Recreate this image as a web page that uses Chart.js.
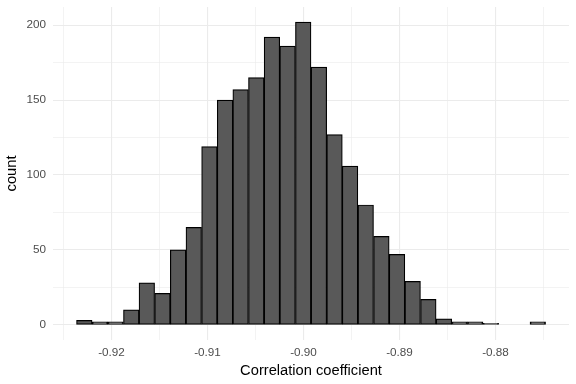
<!DOCTYPE html>
<html>
<head>
<meta charset="utf-8">
<script src="https://cdn.jsdelivr.net/npm/chart.js@4.4.1/dist/chart.umd.min.js"></script>
<style>
  html, body { margin: 0; padding: 0; background: #ffffff; }
  #wrap { width: 576px; height: 384px; }
</style>
</head>
<body>
<div id="wrap"><canvas id="hist"></canvas></div>
<script>
// Центры интервалов гистограммы (30 бинов)
const binCenters = [
  -0.92283, -0.92120, -0.91957, -0.91794, -0.91632, -0.91469,
  -0.91306, -0.91143, -0.90980, -0.90817, -0.90655, -0.90492,
  -0.90329, -0.90166, -0.90003, -0.89840, -0.89677, -0.89515,
  -0.89352, -0.89189, -0.89026, -0.88863, -0.88700, -0.88538,
  -0.88375, -0.88212, -0.88049, -0.87886, -0.87723, -0.87560
];
const counts = [
  3, 2, 2, 10, 28, 21, 50, 65, 119, 150, 157, 165,
  192, 186, 202, 172, 127, 106, 80, 59, 47, 29, 17, 4,
  2, 2, 1, 0, 0, 2
];
const xTickLabels = [-0.92, -0.91, -0.90, -0.89, -0.88];
const yTickLabels = [0, 50, 100, 150, 200];

const FONT = "'Liberation Sans', Arial, sans-serif";
const GRID = '#EBEBEB';

const isMajor = (v, list) => list.some(t => Math.abs(t - v) < 1e-7);
const gridWidth = (list) => (ctx) =>
  (ctx.tick && isMajor(ctx.tick.value, list)) ? 1.1 : 0.6;

const config = {
  type: 'bar',
  data: {
    datasets: [{
      data: binCenters.map((x, i) => ({ x, y: counts[i] })),
      backgroundColor: '#595959',
      borderColor: '#000000',
      borderWidth: 1.2,
      borderSkipped: false,
      barPercentage: 1,
      categoryPercentage: 1
    }]
  },
  options: {
    responsive: true,
    maintainAspectRatio: false,
    animation: false,
    layout: { padding: { left: 0, right: 7, top: 7, bottom: 0 } },
    plugins: {
      legend: { display: false },
      tooltip: { enabled: false }
    },
    scales: {
      x: {
        type: 'linear',
        offset: false,
        min: -0.92609,
        max: -0.87235,
        border: { display: false },
        grid: {
          drawTicks: false,
          offset: false,
          color: GRID,
          lineWidth: gridWidth(xTickLabels)
        },
        ticks: {
          stepSize: 0.005,
          includeBounds: false,
          autoSkip: false,
          maxRotation: 0,
          padding: 6,
          color: '#4D4D4D',
          font: { family: FONT, size: 11.7 },
          callback: (v) => isMajor(v, xTickLabels) ? v.toFixed(2) : ''
        },
        title: {
          display: true,
          text: 'Correlation coefficient',
          color: '#000000',
          font: { family: FONT, size: 14.7 },
          padding: { top: 0, bottom: 4 }
        },
        afterFit: (scale) => {
          scale.height = 44;
          scale.paddingLeft = 0;
          scale.paddingRight = 0;
        }
      },
      y: {
        min: -10.1,
        max: 212.1,
        border: { display: false },
        grid: {
          drawTicks: false,
          color: GRID,
          lineWidth: gridWidth(yTickLabels)
        },
        ticks: {
          stepSize: 25,
          includeBounds: false,
          padding: 7,
          color: '#4D4D4D',
          font: { family: FONT, size: 11.7 },
          callback: (v) => isMajor(v, yTickLabels) ? String(v) : ''
        },
        title: {
          display: true,
          text: 'count',
          color: '#000000',
          font: { family: FONT, size: 14.7 },
          padding: { top: 3, bottom: 0 }
        },
        afterFit: (scale) => {
          scale.width = 53;
          scale.paddingTop = 0;
          scale.paddingBottom = 0;
        }
      }
    }
  }
};

new Chart(document.getElementById('hist').getContext('2d'), config);
</script>
</body>
</html>
